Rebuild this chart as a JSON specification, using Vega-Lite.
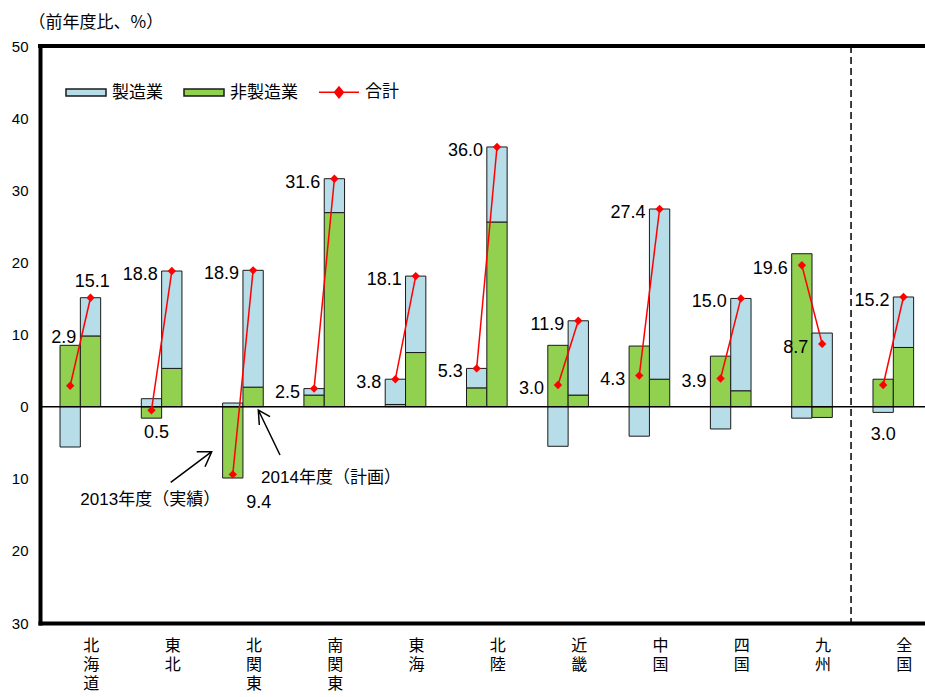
{
  "$schema": "https://vega.github.io/schema/vega-lite/v6.json",
  "width": 885,
  "height": 577,
  "autosize": {"type": "none"},
  "padding": {"left": 40, "top": 46, "right": 0, "bottom": 74},
  "background": "white",
  "config": {"view": {"stroke": null}},
  "datasets": {
    "parts": [
      {"region": "北海道", "year": "2013", "type": "非製造業", "value": 8.5},
      {"region": "北海道", "year": "2013", "type": "製造業", "value": -5.6},
      {"region": "北海道", "year": "2014", "type": "非製造業", "value": 9.8},
      {"region": "北海道", "year": "2014", "type": "製造業", "value": 5.3},
      {"region": "東北", "year": "2013", "type": "非製造業", "value": -1.6},
      {"region": "東北", "year": "2013", "type": "製造業", "value": 1.1},
      {"region": "東北", "year": "2014", "type": "非製造業", "value": 5.3},
      {"region": "東北", "year": "2014", "type": "製造業", "value": 13.5},
      {"region": "北関東", "year": "2013", "type": "非製造業", "value": -9.9},
      {"region": "北関東", "year": "2013", "type": "製造業", "value": 0.5},
      {"region": "北関東", "year": "2014", "type": "非製造業", "value": 2.7},
      {"region": "北関東", "year": "2014", "type": "製造業", "value": 16.2},
      {"region": "南関東", "year": "2013", "type": "非製造業", "value": 1.6},
      {"region": "南関東", "year": "2013", "type": "製造業", "value": 0.9},
      {"region": "南関東", "year": "2014", "type": "非製造業", "value": 26.9},
      {"region": "南関東", "year": "2014", "type": "製造業", "value": 4.7},
      {"region": "東海", "year": "2013", "type": "非製造業", "value": 0.3},
      {"region": "東海", "year": "2013", "type": "製造業", "value": 3.5},
      {"region": "東海", "year": "2014", "type": "非製造業", "value": 7.5},
      {"region": "東海", "year": "2014", "type": "製造業", "value": 10.6},
      {"region": "北陸", "year": "2013", "type": "非製造業", "value": 2.6},
      {"region": "北陸", "year": "2013", "type": "製造業", "value": 2.7},
      {"region": "北陸", "year": "2014", "type": "非製造業", "value": 25.6},
      {"region": "北陸", "year": "2014", "type": "製造業", "value": 10.4},
      {"region": "近畿", "year": "2013", "type": "非製造業", "value": 8.5},
      {"region": "近畿", "year": "2013", "type": "製造業", "value": -5.5},
      {"region": "近畿", "year": "2014", "type": "非製造業", "value": 1.6},
      {"region": "近畿", "year": "2014", "type": "製造業", "value": 10.3},
      {"region": "中国", "year": "2013", "type": "非製造業", "value": 8.4},
      {"region": "中国", "year": "2013", "type": "製造業", "value": -4.1},
      {"region": "中国", "year": "2014", "type": "非製造業", "value": 3.8},
      {"region": "中国", "year": "2014", "type": "製造業", "value": 23.6},
      {"region": "四国", "year": "2013", "type": "非製造業", "value": 7.0},
      {"region": "四国", "year": "2013", "type": "製造業", "value": -3.1},
      {"region": "四国", "year": "2014", "type": "非製造業", "value": 2.2},
      {"region": "四国", "year": "2014", "type": "製造業", "value": 12.8},
      {"region": "九州", "year": "2013", "type": "非製造業", "value": 21.2},
      {"region": "九州", "year": "2013", "type": "製造業", "value": -1.6},
      {"region": "九州", "year": "2014", "type": "非製造業", "value": -1.5},
      {"region": "九州", "year": "2014", "type": "製造業", "value": 10.2},
      {"region": "全国", "year": "2013", "type": "非製造業", "value": 3.8},
      {"region": "全国", "year": "2013", "type": "製造業", "value": -0.8},
      {"region": "全国", "year": "2014", "type": "非製造業", "value": 8.2},
      {"region": "全国", "year": "2014", "type": "製造業", "value": 7.0}
    ],
    "totals": [
      {"region": "北海道", "year": "2013", "total": 2.9},
      {"region": "北海道", "year": "2014", "total": 15.1},
      {"region": "東北", "year": "2013", "total": -0.5},
      {"region": "東北", "year": "2014", "total": 18.8},
      {"region": "北関東", "year": "2013", "total": -9.4},
      {"region": "北関東", "year": "2014", "total": 18.9},
      {"region": "南関東", "year": "2013", "total": 2.5},
      {"region": "南関東", "year": "2014", "total": 31.6},
      {"region": "東海", "year": "2013", "total": 3.8},
      {"region": "東海", "year": "2014", "total": 18.1},
      {"region": "北陸", "year": "2013", "total": 5.3},
      {"region": "北陸", "year": "2014", "total": 36.0},
      {"region": "近畿", "year": "2013", "total": 3.0},
      {"region": "近畿", "year": "2014", "total": 11.9},
      {"region": "中国", "year": "2013", "total": 4.3},
      {"region": "中国", "year": "2014", "total": 27.4},
      {"region": "四国", "year": "2013", "total": 3.9},
      {"region": "四国", "year": "2014", "total": 15.0},
      {"region": "九州", "year": "2013", "total": 19.6},
      {"region": "九州", "year": "2014", "total": 8.7},
      {"region": "全国", "year": "2013", "total": 3.0},
      {"region": "全国", "year": "2014", "total": 15.2}
    ]
  },
  "layer": [
    {
      "data": {"name": "parts"},
      "mark": {"type": "bar", "stroke": "#1a1a1a", "strokeWidth": 1},
      "encoding": {
        "x": {
          "field": "region",
          "type": "nominal",
          "scale": {
            "domain": ["北海道", "東北", "北関東", "南関東", "東海", "北陸", "近畿", "中国", "四国", "九州", "全国"],
            "paddingInner": 0.5,
            "paddingOuter": 0.193,
            "align": 0.638,
            "round": false
          },
          "axis": {
            "title": null,
            "domainColor": "black",
            "domainWidth": 4,
            "domainCap": "square",
            "ticks": false,
            "labelAngle": 0,
            "labelExpr": "split(datum.label, '')",
            "labelOffset": 11,
            "labelPadding": 14,
            "labelBaseline": "top",
            "labelFont": "Noto Sans CJK JP",
            "labelFontSize": 16,
            "labelLineHeight": 19,
            "labelColor": "black",
            "labelFlush": false,
            "labelOverlap": false,
            "labelBound": false
          }
        },
        "xOffset": {
          "field": "year",
          "type": "nominal",
          "scale": {"domain": ["2013", "2014"], "paddingInner": 0, "paddingOuter": 0}
        },
        "y": {
          "field": "value",
          "type": "quantitative",
          "stack": "zero",
          "scale": {"domain": [-30, 50], "nice": false, "zero": false},
          "axis": {
            "title": "（前年度比、%）",
            "titleAngle": 0,
            "titleAlign": "left",
            "titleBaseline": "middle",
            "titleX": -12,
            "titleY": -24,
            "titleFont": "Noto Sans CJK JP",
            "titleFontSize": 17,
            "titleFontWeight": "normal",
            "titleColor": "black",
            "values": [-30, -20, -10, 0, 10, 20, 30, 40, 50],
            "labelExpr": "abs(datum.value)",
            "labelFont": "Liberation Sans",
            "labelFontSize": 15,
            "labelColor": "black",
            "labelPadding": 12,
            "labelFlush": false,
            "ticks": false,
            "grid": false,
            "domainColor": "black",
            "domainWidth": 4,
            "domainCap": "square"
          }
        },
        "color": {
          "field": "type",
          "type": "nominal",
          "scale": {"domain": ["製造業", "非製造業", "合計"], "range": ["#B7DDE8", "#92D050", "#FF0000"]},
          "legend": {
            "title": null,
            "orient": "none",
            "legendX": 25,
            "legendY": 25,
            "direction": "horizontal",
            "symbolSize": 1600,
            "symbolStrokeColor": "#1a1a1a",
            "symbolStrokeWidth": 1.5,
            "labelFont": "Noto Sans CJK JP",
            "labelFontSize": 17,
            "labelColor": "black",
            "labelOffset": 5,
            "columnPadding": 18,
            "padding": 0,
            "encoding": {
              "symbols": {
                "shape": {"value": {"expr": "datum.value === '合計' ? 'M-1,0H1M0,-0.27L0.22,0L0,0.27L-0.22,0Z' : 'M-1,-0.17H1V0.17H-1Z'"}},
                "stroke": {"value": {"expr": "datum.value === '合計' ? '#FF0000' : '#1a1a1a'"}},
                "fill": {"value": {"expr": "datum.value === '製造業' ? '#B7DDE8' : datum.value === '非製造業' ? '#92D050' : '#FF0000'"}},
                "strokeWidth": {"value": 1.5},
                "strokeOpacity": {"value": 1},
                "fillOpacity": {"value": 1},
                "opacity": {"value": 1}
              }
            }
          }
        },
        "order": {"field": "type", "sort": "descending"}
      }
    },
    {
      "data": {"values": [{}]},
      "mark": {"type": "rule", "color": "black", "strokeWidth": 1.5},
      "encoding": {"y": {"datum": 0, "type": "quantitative"}}
    },
    {
      "data": {"values": [{}]},
      "mark": {"type": "rule", "color": "black", "strokeWidth": 4, "strokeCap": "square"},
      "encoding": {"y": {"datum": 50, "type": "quantitative"}}
    },
    {
      "data": {"values": [{}]},
      "mark": {"type": "rule", "color": "black", "strokeWidth": 1.5, "strokeDash": [7, 4]},
      "encoding": {"x": {"datum": "九州", "type": "nominal", "bandPosition": 1.46}}
    },
    {
      "data": {"name": "totals"},
      "mark": {"type": "line", "strokeWidth": 1.5, "color": "#FF0000"},
      "encoding": {
        "x": {"field": "region", "type": "nominal"},
        "xOffset": {"field": "year", "type": "nominal"},
        "y": {"field": "total", "type": "quantitative"},
        "detail": {"field": "region"}
      }
    },
    {
      "data": {"name": "totals"},
      "mark": {"type": "point", "shape": "diamond", "size": 70, "filled": true, "opacity": 1, "color": "#FF0000"},
      "encoding": {
        "x": {"field": "region", "type": "nominal"},
        "xOffset": {"field": "year", "type": "nominal"},
        "y": {"field": "total", "type": "quantitative"}
      }
    },
    {
      "data": {"name": "totals"},
      "transform": [
        {"filter": "!(datum.region === '北海道' || (datum.year === '2013' && indexof(['東北', '北関東', '全国'], datum.region) >= 0))"},
        {"calculate": "format(abs(datum.total), '.1f')", "as": "lab"}
      ],
      "mark": {"type": "text", "align": "right", "baseline": "middle", "dx": -14, "dy": 4, "font": "Liberation Sans", "fontSize": 18, "color": "black"},
      "encoding": {
        "x": {"field": "region", "type": "nominal"},
        "xOffset": {"field": "year", "type": "nominal"},
        "y": {"field": "total", "type": "quantitative"},
        "text": {"field": "lab"}
      }
    },
    {
      "data": {"name": "totals"},
      "transform": [
        {"filter": "datum.region === '北海道' && datum.year === '2013'"},
        {"calculate": "format(abs(datum.total), '.1f')", "as": "lab"}
      ],
      "mark": {"type": "text", "align": "center", "baseline": "middle", "dx": -6.5, "dy": -47.7, "font": "Liberation Sans", "fontSize": 18, "color": "black"},
      "encoding": {
        "x": {"field": "region", "type": "nominal"},
        "xOffset": {"field": "year", "type": "nominal"},
        "y": {"field": "total", "type": "quantitative"},
        "text": {"field": "lab"}
      }
    },
    {
      "data": {"name": "totals"},
      "transform": [
        {"filter": "datum.region === '北海道' && datum.year === '2014'"},
        {"calculate": "format(abs(datum.total), '.1f')", "as": "lab"}
      ],
      "mark": {"type": "text", "align": "center", "baseline": "middle", "dx": 1.8, "dy": -16, "font": "Liberation Sans", "fontSize": 18, "color": "black"},
      "encoding": {
        "x": {"field": "region", "type": "nominal"},
        "xOffset": {"field": "year", "type": "nominal"},
        "y": {"field": "total", "type": "quantitative"},
        "text": {"field": "lab"}
      }
    },
    {
      "data": {"name": "totals"},
      "transform": [
        {"filter": "datum.region === '東北' && datum.year === '2013'"},
        {"calculate": "format(abs(datum.total), '.1f')", "as": "lab"}
      ],
      "mark": {"type": "text", "align": "center", "baseline": "middle", "dx": 5, "dy": 23, "font": "Liberation Sans", "fontSize": 18, "color": "black"},
      "encoding": {
        "x": {"field": "region", "type": "nominal"},
        "xOffset": {"field": "year", "type": "nominal"},
        "y": {"field": "total", "type": "quantitative"},
        "text": {"field": "lab"}
      }
    },
    {
      "data": {"name": "totals"},
      "transform": [
        {"filter": "datum.region === '北関東' && datum.year === '2013'"},
        {"calculate": "format(abs(datum.total), '.1f')", "as": "lab"}
      ],
      "mark": {"type": "text", "align": "center", "baseline": "middle", "dx": 26, "dy": 28.6, "font": "Liberation Sans", "fontSize": 18, "color": "black"},
      "encoding": {
        "x": {"field": "region", "type": "nominal"},
        "xOffset": {"field": "year", "type": "nominal"},
        "y": {"field": "total", "type": "quantitative"},
        "text": {"field": "lab"}
      }
    },
    {
      "data": {"name": "totals"},
      "transform": [
        {"filter": "datum.region === '全国' && datum.year === '2013'"},
        {"calculate": "format(abs(datum.total), '.1f')", "as": "lab"}
      ],
      "mark": {"type": "text", "align": "center", "baseline": "middle", "dx": 0, "dy": 50, "font": "Liberation Sans", "fontSize": 18, "color": "black"},
      "encoding": {
        "x": {"field": "region", "type": "nominal"},
        "xOffset": {"field": "year", "type": "nominal"},
        "y": {"field": "total", "type": "quantitative"},
        "text": {"field": "lab"}
      }
    },
    {
      "data": {"values": [{}]},
      "mark": {"type": "point", "shape": "M-41,30.6L0,0M-15,0L0,0L-6.7,15", "size": 4, "filled": false, "stroke": "black", "strokeWidth": 1.5, "opacity": 1},
      "encoding": {
        "x": {"datum": "東北", "type": "nominal", "bandPosition": 1.732},
        "y": {"datum": -6.25, "type": "quantitative"}
      }
    },
    {
      "data": {"values": [{}]},
      "mark": {"type": "point", "shape": "M21.7,45L0,0M1,15L0,0L11.7,6.7", "size": 4, "filled": false, "stroke": "black", "strokeWidth": 1.5, "opacity": 1},
      "encoding": {
        "x": {"datum": "北関東", "type": "nominal", "bandPosition": 0.878},
        "y": {"datum": -0.47, "type": "quantitative"}
      }
    },
    {
      "data": {"values": [{"note": "2013年度（実績）"}]},
      "mark": {"type": "text", "align": "center", "baseline": "middle", "font": "Liberation Sans, Noto Sans CJK JP", "fontSize": 17, "color": "black"},
      "encoding": {
        "x": {"datum": "東北", "type": "nominal", "bandPosition": 0.22},
        "y": {"datum": -12.95, "type": "quantitative"},
        "text": {"field": "note"}
      }
    },
    {
      "data": {"values": [{"note": "2014年度（計画）"}]},
      "mark": {"type": "text", "align": "center", "baseline": "middle", "font": "Liberation Sans, Noto Sans CJK JP", "fontSize": 17, "color": "black"},
      "encoding": {
        "x": {"datum": "南関東", "type": "nominal", "bandPosition": 0.667},
        "y": {"datum": -9.9, "type": "quantitative"},
        "text": {"field": "note"}
      }
    }
  ]
}
